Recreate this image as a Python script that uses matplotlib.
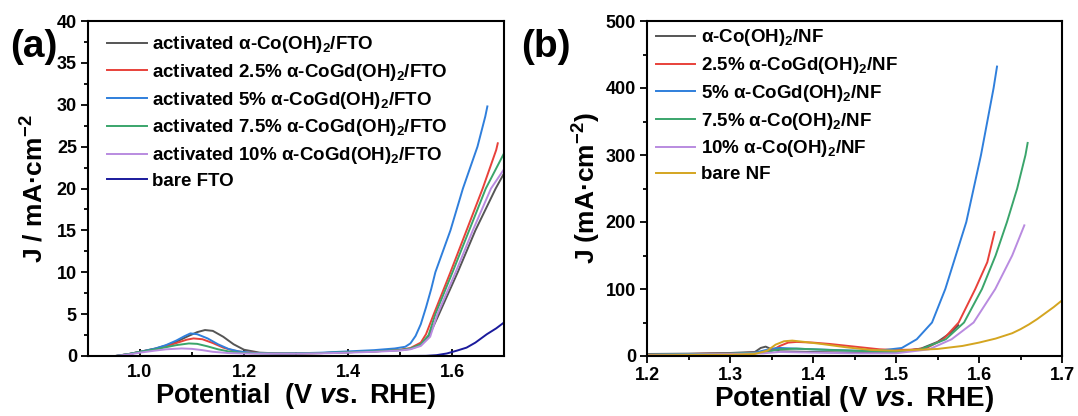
import matplotlib
matplotlib.use("Agg")
import matplotlib.pyplot as plt
from matplotlib.ticker import MultipleLocator

plt.rcParams['font.family'] = ['Liberation Sans', 'DejaVu Sans']
plt.rcParams['font.weight'] = 'bold'
plt.rcParams['mathtext.fontset'] = 'custom'
plt.rcParams['mathtext.rm'] = 'Liberation Sans:bold'
plt.rcParams['mathtext.bf'] = 'Liberation Sans:bold'
plt.rcParams['mathtext.it'] = 'Liberation Sans:bold:italic'
plt.rcParams['mathtext.default'] = 'bf'

# ---------------- Panel (a) data ----------------
labels_a = ["activated α-Co(OH)$_2$/FTO",
            "activated 2.5% α-CoGd(OH)$_2$/FTO",
            "activated 5% α-CoGd(OH)$_2$/FTO",
            "activated 7.5% α-CoGd(OH)$_2$/FTO",
            "activated 10% α-CoGd(OH)$_2$/FTO",
            "bare FTO"]
colors_a = ["#555555", "#e8413a", "#2f7fdc", "#3aa56b", "#b98be0", "#1a1a9c"]

v_gray_a = [0.953, 0.98, 1.00, 1.03, 1.05, 1.07, 1.09, 1.11, 1.125, 1.14, 1.16, 1.18, 1.20, 1.23, 1.27, 1.30, 1.35, 1.40, 1.45, 1.50, 1.52, 1.54, 1.555, 1.575, 1.611, 1.645, 1.684, 1.70]
j_gray_a = [0.0, 0.25, 0.5, 0.9, 1.25, 1.7, 2.3, 2.85, 3.1, 3.0, 2.3, 1.4, 0.75, 0.4, 0.3, 0.3, 0.35, 0.45, 0.55, 0.7, 0.85, 1.3, 2.3, 5.0, 10.0, 15.0, 20.0, 21.8]

v_red_a = [0.953, 0.98, 1.00, 1.03, 1.05, 1.07, 1.09, 1.103, 1.12, 1.14, 1.16, 1.18, 1.20, 1.23, 1.27, 1.30, 1.35, 1.40, 1.45, 1.50, 1.52, 1.54, 1.55, 1.565, 1.597, 1.628, 1.659, 1.685, 1.688]
j_red_a = [0.0, 0.25, 0.5, 0.85, 1.15, 1.55, 1.95, 2.1, 2.0, 1.55, 1.0, 0.65, 0.45, 0.35, 0.3, 0.3, 0.35, 0.45, 0.55, 0.75, 0.95, 1.6, 2.6, 5.0, 10.0, 15.0, 20.0, 24.6, 25.4]

v_blue_a = [0.953, 0.98, 1.00, 1.03, 1.05, 1.07, 1.085, 1.097, 1.11, 1.13, 1.15, 1.17, 1.19, 1.22, 1.26, 1.30, 1.35, 1.40, 1.45, 1.49, 1.51, 1.52, 1.53, 1.54, 1.55, 1.56, 1.568, 1.597, 1.621, 1.649, 1.664, 1.668]
j_blue_a = [0.0, 0.25, 0.5, 0.9, 1.3, 1.85, 2.35, 2.7, 2.6, 2.1, 1.4, 0.85, 0.55, 0.35, 0.3, 0.32, 0.4, 0.55, 0.7, 0.9, 1.1, 1.5, 2.4, 3.8, 5.8, 8.0, 10.0, 15.0, 20.0, 25.0, 28.6, 29.8]

v_green_a = [0.953, 0.98, 1.00, 1.03, 1.05, 1.07, 1.094, 1.11, 1.13, 1.15, 1.17, 1.19, 1.22, 1.26, 1.30, 1.35, 1.40, 1.45, 1.50, 1.52, 1.54, 1.555, 1.568, 1.601, 1.633, 1.665, 1.70]
j_green_a = [0.0, 0.25, 0.5, 0.8, 1.05, 1.3, 1.5, 1.45, 1.15, 0.8, 0.55, 0.4, 0.32, 0.3, 0.3, 0.35, 0.45, 0.55, 0.7, 0.9, 1.4, 2.5, 5.0, 10.0, 15.0, 20.0, 24.2]

v_purple_a = [0.953, 0.98, 1.00, 1.03, 1.05, 1.08, 1.10, 1.12, 1.14, 1.17, 1.20, 1.25, 1.30, 1.35, 1.40, 1.45, 1.50, 1.52, 1.54, 1.558, 1.572, 1.607, 1.64, 1.675, 1.70]
j_purple_a = [0.0, 0.2, 0.4, 0.65, 0.8, 0.9, 0.85, 0.7, 0.5, 0.35, 0.3, 0.28, 0.28, 0.32, 0.4, 0.5, 0.65, 0.8, 1.2, 2.3, 5.0, 10.0, 15.0, 20.0, 22.3]

v_navy_a = [0.953, 1.10, 1.30, 1.50, 1.55, 1.57, 1.59, 1.61, 1.628, 1.645, 1.667, 1.685, 1.70]
j_navy_a = [0.0, 0.0, 0.0, 0.0, 0.02, 0.1, 0.3, 0.65, 1.0, 1.6, 2.6, 3.3, 4.0]

series_a = [(v_gray_a, j_gray_a), (v_red_a, j_red_a), (v_blue_a, j_blue_a),
            (v_green_a, j_green_a), (v_purple_a, j_purple_a), (v_navy_a, j_navy_a)]

# ---------------- Panel (b) data ----------------
labels_b = ["α-Co(OH)$_2$/NF",
            "2.5% α-CoGd(OH)$_2$/NF",
            "5% α-CoGd(OH)$_2$/NF",
            "7.5% α-Co(OH)$_2$/NF",
            "10% α-Co(OH)$_2$/NF",
            "bare NF"]
colors_b = ["#555555", "#e8413a", "#2f7fdc", "#3aa56b", "#b98be0", "#d4a520"]

v_gray_b = [1.20, 1.25, 1.30, 1.33, 1.337, 1.343, 1.35, 1.36, 1.40, 1.45, 1.50, 1.53, 1.55, 1.565, 1.575]
j_gray_b = [3.0, 3.5, 4.5, 6.0, 12.0, 14.0, 10.0, 7.0, 6.0, 5.0, 6.0, 11.0, 21.0, 34.0, 46.0]

v_red_b = [1.20, 1.25, 1.30, 1.33, 1.35, 1.36, 1.37, 1.38, 1.40, 1.42, 1.45, 1.48, 1.50, 1.52, 1.537, 1.557, 1.5755, 1.5955, 1.61, 1.6188]
j_red_b = [2.5, 3.0, 4.0, 5.0, 8.0, 15.0, 20.0, 21.0, 20.0, 18.0, 14.0, 10.0, 9.0, 9.5, 12.0, 25.0, 50.0, 100.0, 140.0, 185.0]

v_blue_b = [1.20, 1.25, 1.30, 1.33, 1.35, 1.36, 1.38, 1.40, 1.45, 1.48, 1.507, 1.525, 1.5434, 1.5594, 1.5847, 1.6024, 1.6176, 1.6217]
j_blue_b = [2.0, 2.8, 3.5, 5.0, 11.0, 12.0, 11.0, 10.0, 8.0, 8.0, 12.0, 25.0, 50.0, 100.0, 200.0, 300.0, 400.0, 432.0]

v_green_b = [1.20, 1.25, 1.30, 1.34, 1.36, 1.38, 1.42, 1.47, 1.50, 1.53, 1.56, 1.582, 1.6036, 1.62, 1.6337, 1.646, 1.656, 1.6586]
j_green_b = [2.0, 2.8, 3.5, 5.0, 10.0, 11.0, 9.0, 7.0, 6.0, 10.0, 25.0, 50.0, 100.0, 150.0, 200.0, 250.0, 300.0, 318.0]

v_purple_b = [1.20, 1.25, 1.30, 1.34, 1.36, 1.40, 1.45, 1.50, 1.54, 1.567, 1.5935, 1.6196, 1.64, 1.6546]
j_purple_b = [1.5, 2.2, 3.0, 4.0, 6.0, 5.0, 4.0, 4.0, 10.0, 25.0, 50.0, 100.0, 150.0, 195.0]

v_gold_b = [1.20, 1.25, 1.30, 1.33, 1.345, 1.355, 1.365, 1.375, 1.39, 1.41, 1.44, 1.47, 1.50, 1.55, 1.58, 1.60, 1.62, 1.64, 1.65, 1.66, 1.67, 1.68, 1.69, 1.70]
j_gold_b = [1.0, 1.5, 2.0, 3.0, 8.0, 17.0, 22.0, 23.0, 21.0, 18.0, 13.0, 9.0, 8.0, 10.5, 15.0, 20.0, 26.0, 34.0, 40.0, 47.0, 55.0, 64.0, 73.0, 83.0]

series_b = [(v_gray_b, j_gray_b), (v_red_b, j_red_b), (v_blue_b, j_blue_b),
            (v_green_b, j_green_b), (v_purple_b, j_purple_b), (v_gold_b, j_gold_b)]

# ---------------- Figure ----------------
W, H = 1078, 416
fig = plt.figure(figsize=(W / 100, H / 100), dpi=100)

def px_axes(x0, y0, x1, y1):
    return fig.add_axes([x0 / W, 1 - y1 / H, (x1 - x0) / W, (y1 - y0) / H])

ax_a = px_axes(88, 21, 504, 356)
ax_b = px_axes(647, 21, 1062, 356)

lw = 1.4
for (v, j), c, lab in zip(series_a, colors_a, labels_a):
    ax_a.plot(v, j, color=c, lw=lw, label=lab)
for (v, j), c, lab in zip(series_b, colors_b, labels_b):
    ax_b.plot(v, j, color=c, lw=lw, label=lab)

ax_a.set_xlim(0.9, 1.7)
ax_a.set_ylim(0, 40)
ax_a.xaxis.set_minor_locator(MultipleLocator(0.1))
ax_a.yaxis.set_major_locator(MultipleLocator(5))
ax_a.yaxis.set_minor_locator(MultipleLocator(2.5))
ax_a.set_xticks([1.0, 1.2, 1.4, 1.6])
ax_a.set_xticklabels(["1.0", "1.2", "1.4", "1.6"])

ax_b.set_xlim(1.2, 1.7)
ax_b.set_ylim(0, 500)
ax_b.xaxis.set_major_locator(MultipleLocator(0.1))
ax_b.xaxis.set_minor_locator(MultipleLocator(0.05))
ax_b.yaxis.set_major_locator(MultipleLocator(100))
ax_b.yaxis.set_minor_locator(MultipleLocator(50))
ax_b.xaxis.set_major_formatter(matplotlib.ticker.FormatStrFormatter('%.1f'))

for ax in (ax_a, ax_b):
    for s in ax.spines.values():
        s.set_linewidth(1.5)
    ax.tick_params(which='both', top=False, right=False, width=1.3, labelsize=13)
    ax.tick_params(which='major', length=5)
    ax.tick_params(which='minor', length=3)
    for t in ax.get_xticklabels() + ax.get_yticklabels():
        t.set_fontweight('bold')

ax_a.tick_params(axis='x', which='both', direction='in', pad=6)
ax_a.tick_params(axis='y', which='both', direction='out', pad=3)
ax_b.tick_params(axis='both', which='both', direction='out', pad=3)

ax_a.set_xlabel("Potential  (V $\\mathit{vs.}$ RHE)", fontsize=19.5, fontweight='bold', labelpad=0)
ax_a.set_ylabel("J / mA·cm$^{-2}$", fontsize=19, fontweight='bold', labelpad=6)
ax_b.set_xlabel("Potential (V $\\mathit{vs.}$ RHE)", fontsize=20, fontweight='bold', labelpad=0)
ax_b.set_ylabel("J (mA·cm$^{-2}$)", fontsize=19, fontweight='bold', labelpad=2)

leg_kw = dict(frameon=False, handlelength=2.1, handletextpad=0.3,
              labelspacing=0.36, borderaxespad=0.3, prop={'weight': 'bold', 'size': 13.5})
ax_a.legend(loc='upper left', bbox_to_anchor=(0.015, 1.0), **leg_kw)
ax_b.legend(loc='upper left', bbox_to_anchor=(-0.01, 1.02), **leg_kw)

fig.text(34 / W, 1 - 47 / H, "(a)", fontsize=28, fontweight='bold', ha='center', va='center')
fig.text(546 / W, 1 - 47 / H, "(b)", fontsize=28, fontweight='bold', ha='center', va='center')

fig.savefig("out.png", dpi=100)
